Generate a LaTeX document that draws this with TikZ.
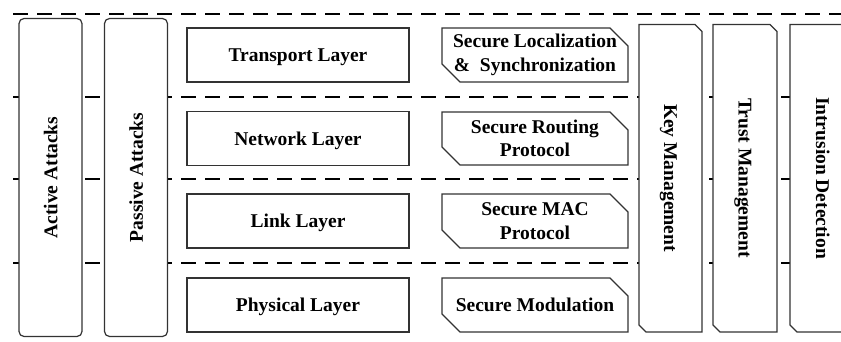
\documentclass[tikz,border=0pt]{standalone}
\usepackage{fontspec}
\setmainfont{Liberation Serif}
\begin{document}
\begin{tikzpicture}[x=1pt, y=-1pt]

  \tikzstyle{divider} = [line width=2, dash pattern=on 15pt off 9pt]
  \tikzstyle{plate} = [draw=black!80, line width=1.2, fill=white]
  \tikzstyle{txt} = [font=\fontsize{19.5}{23.5}\selectfont\bfseries, align=center]
  \tikzstyle{oneline} = [txt, text depth=0pt]
  \tikzstyle{layerbox} = [plate, oneline, minimum width=222pt, minimum height=54pt]
  \tikzstyle{attackbox} = [plate, oneline, rounded corners=5, rotate=90, minimum width=318pt, minimum height=63pt]

  \clip (0,0) rectangle (841,342);

  % dashed separators between the layers
  \draw[divider] (13,14) -- (841,14);
  \draw[divider] (13,97) -- (841,97);
  \draw[divider] (13,179.5) -- (841,179.5);
  \draw[divider] (13,263) -- (841,263);

  % attacks
  \node[attackbox] (active) at (50.5,177.5) {Active Attacks};
  \node[attackbox] (passive) at (136,177.5) {Passive Attacks};

  % protocol stack
  \node[layerbox] (transport) at (298,55) {Transport Layer};
  \node[layerbox] (network) at (298,138.5) {Network Layer};
  \node[layerbox] (link) at (298,221) {Link Layer};
  \node[layerbox] (physical) at (298,305) {Physical Layer};

  % security per layer
  \draw[plate] (442,28) -- ++(168,0) -- ++(18,18) -- ++(0,36) -- ++(-168,0) -- ++(-18,-18) -- cycle;
  \node[txt] (localization) at (535,55) {Secure Localization\\\&\ \ Synchronization};

  \draw[plate] (442,112) -- ++(168,0) -- ++(18,18) -- ++(0,35) -- ++(-168,0) -- ++(-18,-18) -- cycle;
  \node[txt] (routing) at (535,138.5) {Secure Routing\\Protocol};

  \draw[plate] (442,194) -- ++(168,0) -- ++(18,18) -- ++(0,36) -- ++(-168,0) -- ++(-18,-18) -- cycle;
  \node[txt] (mac) at (535,221) {Secure MAC\\Protocol};

  \draw[plate] (442,278) -- ++(168,0) -- ++(18,18) -- ++(0,36) -- ++(-168,0) -- ++(-18,-18) -- cycle;
  \node[oneline] (modulation) at (535,305) {Secure Modulation};

  % cross-layer management
  \draw[plate] (639,24.5) -- ++(56,0) -- ++(7,7) -- ++(0,300.5) -- ++(-56,0) -- ++(-7,-7) -- cycle;
  \node[oneline, rotate=-90] (key) at (670.5,178) {Key Management};

  \draw[plate] (713,24.5) -- ++(57,0) -- ++(7,7) -- ++(0,300.5) -- ++(-57,0) -- ++(-7,-7) -- cycle;
  \node[oneline, rotate=-90] (trust) at (745,178) {Trust Management};

  \draw[plate] (790,24.5) -- ++(57,0) -- ++(7,7) -- ++(0,300.5) -- ++(-57,0) -- ++(-7,-7) -- cycle;
  \node[oneline, rotate=-90] (intrusion) at (823,178) {Intrusion Detection};

\end{tikzpicture}
\end{document}
